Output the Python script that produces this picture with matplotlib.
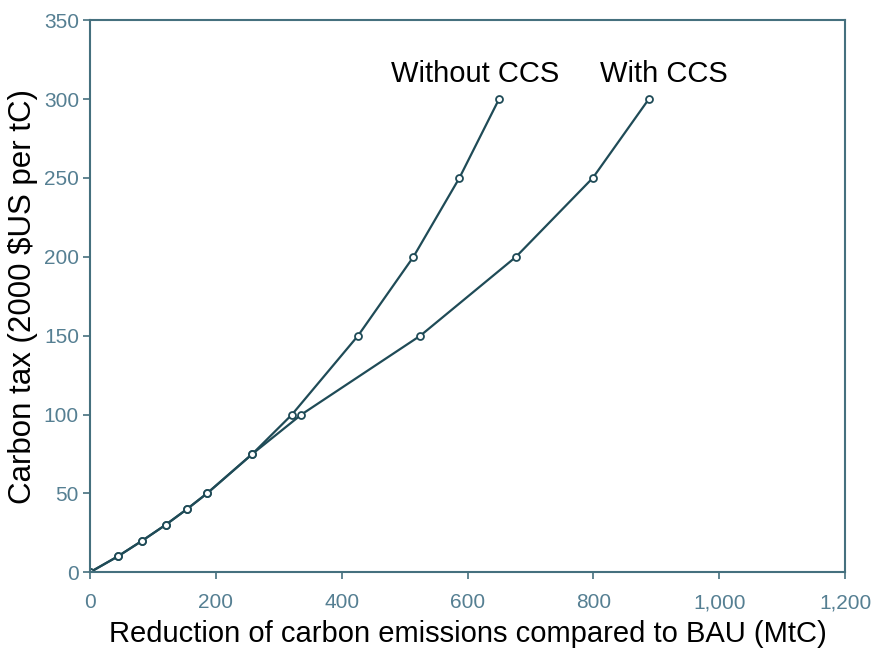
import matplotlib
matplotlib.use("Agg")
import matplotlib.pyplot as plt
from matplotlib.ticker import FuncFormatter, MultipleLocator

# carbon tax levels (2000 $US per tC)
tax = [0, 10, 20, 30, 40, 50, 75, 100, 150, 200, 250, 300]

# reduction of carbon emissions vs BAU (MtC)
cut_without_ccs = [0, 44, 83, 120, 154, 186, 258, 321, 426, 514, 587, 650]
cut_with_ccs = [0, 44, 83, 120, 154, 186, 258, 336, 525, 677, 799, 888]

line_col = "#1f4b57"
spine_col = "#45707e"
tick_col = "#557f92"

plt.rcParams["font.family"] = ["Liberation Sans", "DejaVu Sans"]

fig = plt.figure(figsize=(8.74, 6.51), dpi=100)
ax = fig.add_axes([0.103, 0.121, 0.864, 0.848])

for xs in (cut_without_ccs, cut_with_ccs):
    ax.plot(xs, tax, color=line_col, linewidth=1.6,
            marker="o", markersize=5, markerfacecolor="white",
            markeredgecolor=line_col, markeredgewidth=1.3)

ax.text(612, 311, "Without CCS", fontsize=21, ha="center", va="baseline")
ax.text(912, 311, "With CCS", fontsize=21, ha="center", va="baseline")

ax.set_xlim(0, 1200)
ax.set_ylim(0, 350)
ax.xaxis.set_major_locator(MultipleLocator(200))
ax.yaxis.set_major_locator(MultipleLocator(50))
ax.xaxis.set_major_formatter(FuncFormatter(lambda v, p: f"{int(v):,}"))

for s in ax.spines.values():
    s.set_color(spine_col)
    s.set_linewidth(1.5)

ax.tick_params(axis="both", direction="out", length=5, width=1.2,
               color=spine_col, labelcolor=tick_col, labelsize=15)
ax.tick_params(axis="x", pad=10)
ax.tick_params(axis="y", pad=3)

ax.set_xlabel("Reduction of carbon emissions compared to BAU (MtC)",
              fontsize=21, labelpad=6)
ax.set_ylabel("Carbon tax (2000 $US per tC)", fontsize=22.5, labelpad=4)

fig.savefig("out.png", dpi=100)
